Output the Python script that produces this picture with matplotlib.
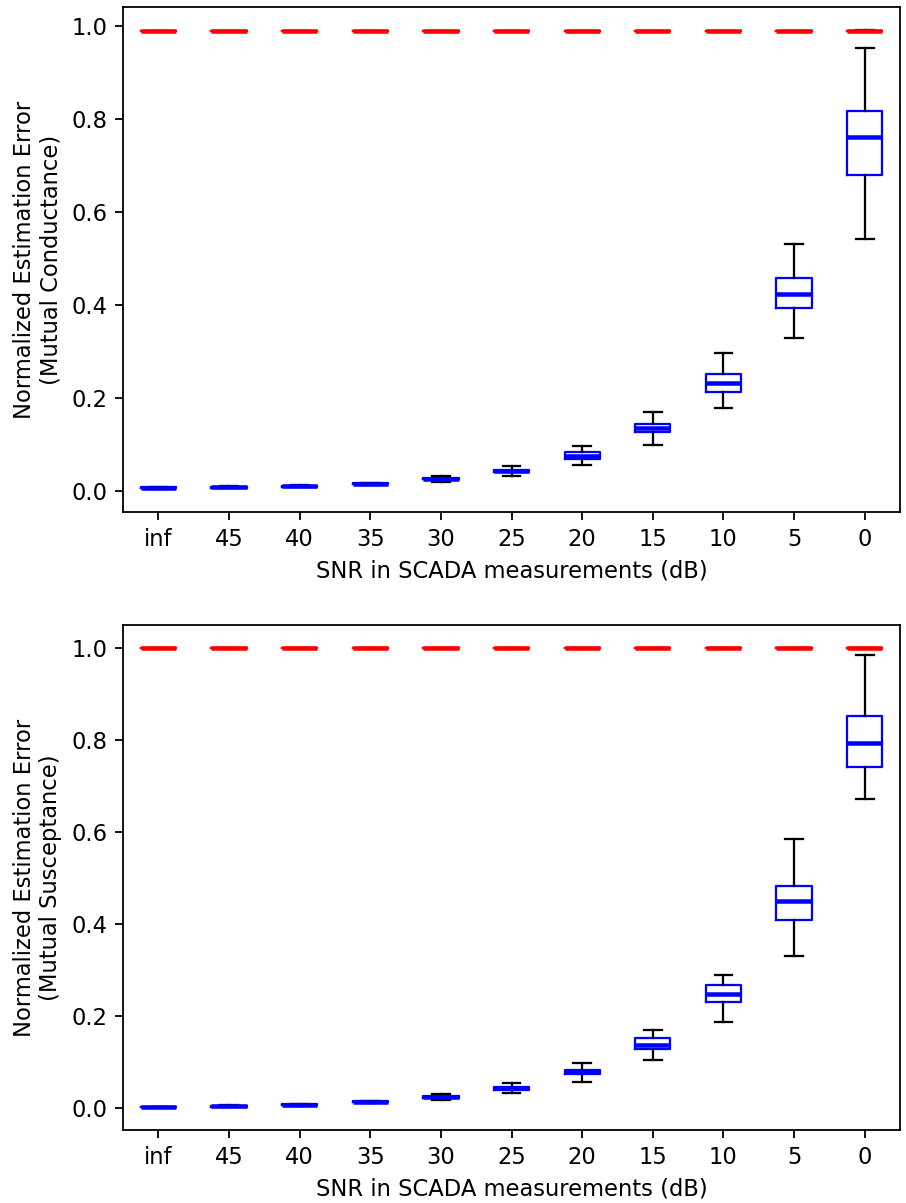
import matplotlib
matplotlib.use('Agg')
import matplotlib.pyplot as plt

# Etiquetas eje x
snr_labels = ['inf', '45', '40', '35', '30', '25', '20', '15', '10', '5', '0']

# Conductancia mutua: mediana, cuartiles y bigotes
g_med = [0.006, 0.007, 0.009, 0.015, 0.026, 0.042, 0.074, 0.135, 0.231, 0.423, 0.761]
g_q1 = [0.005, 0.006, 0.008, 0.014, 0.024, 0.039, 0.069, 0.126, 0.211, 0.393, 0.678]
g_q3 = [0.007, 0.008, 0.010, 0.016, 0.028, 0.045, 0.083, 0.144, 0.251, 0.457, 0.816]
g_lo = [0.004, 0.005, 0.007, 0.013, 0.019, 0.032, 0.056, 0.099, 0.177, 0.328, 0.540]
g_hi = [0.008, 0.009, 0.011, 0.017, 0.031, 0.053, 0.096, 0.168, 0.296, 0.530, 0.952]
g_ref = [0.989] * 11
g_ref_hi = [0.989] * 10 + [0.991]

# Susceptancia mutua
b_med = [0.002, 0.004, 0.007, 0.013, 0.024, 0.043, 0.077, 0.136, 0.248, 0.450, 0.793]
b_q1 = [0.001, 0.003, 0.006, 0.012, 0.022, 0.040, 0.073, 0.128, 0.230, 0.409, 0.741]
b_q3 = [0.003, 0.005, 0.008, 0.014, 0.026, 0.046, 0.082, 0.152, 0.268, 0.483, 0.851]
b_lo = [0.001, 0.002, 0.005, 0.011, 0.017, 0.033, 0.056, 0.104, 0.186, 0.330, 0.671]
b_hi = [0.003, 0.006, 0.009, 0.015, 0.031, 0.054, 0.097, 0.170, 0.289, 0.585, 0.985]
b_ref = [1.0] * 11
b_ref_hi = [1.0] * 11


def make_stats(med, q1, q3, lo, hi):
    return [{'med': m, 'q1': a, 'q3': b, 'whislo': l, 'whishi': h, 'fliers': []}
            for m, a, b, l, h in zip(med, q1, q3, lo, hi)]


def draw_panel(ax, stats, ref, ref_hi, ylabel, ylim):
    # referencia en rojo (caja sin dispersión)
    ref_stats = make_stats(ref, ref, ref, ref, ref_hi)
    ax.bxp(ref_stats, showfliers=False,
           boxprops=dict(color='red', linewidth=1),
           medianprops=dict(color='red', linewidth=2),
           whiskerprops=dict(color='black', linewidth=1),
           capprops=dict(color='black', linewidth=1))
    ax.bxp(stats, showfliers=False,
           boxprops=dict(color='blue', linewidth=1),
           medianprops=dict(color='blue', linewidth=2),
           whiskerprops=dict(color='black', linewidth=1),
           capprops=dict(color='black', linewidth=1))
    ax.set_xlim(0.5, 11.5)
    ax.set_ylim(*ylim)
    ax.set_xticks(range(1, 12))
    ax.set_xticklabels(snr_labels)
    ax.set_yticks([0.0, 0.2, 0.4, 0.6, 0.8, 1.0])
    ax.set_xlabel('SNR in SCADA measurements (dB)')
    ax.set_ylabel(ylabel)


DPI = 162.5
fig = plt.figure(figsize=(906 / DPI, 1203 / DPI), dpi=DPI)
ax1 = fig.add_axes([0.1358, 0.5744, 0.8576, 0.4198])
ax2 = fig.add_axes([0.1358, 0.0607, 0.8576, 0.4198])

draw_panel(ax1, make_stats(g_med, g_q1, g_q3, g_lo, g_hi), g_ref, g_ref_hi,
           'Normalized Estimation Error\n(Mutual Conductance)', (-0.046, 1.04))
draw_panel(ax2, make_stats(b_med, b_q1, b_q3, b_lo, b_hi), b_ref, b_ref_hi,
           'Normalized Estimation Error\n(Mutual Susceptance)', (-0.048, 1.05))

fig.savefig('out.png', dpi=DPI)
